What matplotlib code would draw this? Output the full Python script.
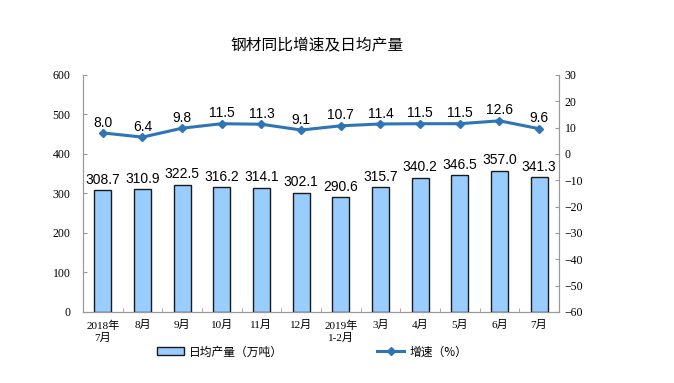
import matplotlib.pyplot as plt
import numpy as np

categories = ['2018年\n7月', '8月', '9月', '10月', '11月', '12月', '2019年\n1-2月',
              '3月', '4月', '5月', '6月', '7月']
output = [308.7, 310.9, 322.5, 316.2, 314.1, 302.1, 290.6, 315.7, 340.2, 346.5, 357.0, 341.3]
growth = [8.0, 6.4, 9.8, 11.5, 11.3, 9.1, 10.7, 11.4, 11.5, 11.5, 12.6, 9.6]

tick_font = ['Liberation Serif', 'Noto Sans CJK SC']
cjk_font = ['Noto Sans CJK SC', 'DejaVu Sans']

fig = plt.figure(figsize=(6.74, 3.83), dpi=100)
ax1 = fig.add_axes([0.1231, 0.1854, 0.7062, 0.6188])
ax2 = ax1.twinx()

x = np.arange(len(categories))
ax1.bar(x, output, width=0.43, color='#99CCFF', edgecolor='#1a1a1a',
        linewidth=1.0, label='日均产量（万吨）', zorder=2)
for xi, v in zip(x, output):
    ax1.text(xi, v + 9, f'{v:.1f}', ha='center', va='bottom', fontsize=10,
             family='Liberation Sans', zorder=5)

ax2.plot(x, growth, color='#2E75B6', lw=2.2, marker='D', ms=4.5,
         label='增速（%）', zorder=4)
for xi, v in zip(x, growth):
    ax2.text(xi, v + 1.3, f'{v:.1f}', ha='center', va='bottom', fontsize=10,
             family='Liberation Sans', zorder=5)

ax1.set_xlim(-0.5, len(categories) - 0.5)
ax1.set_ylim(0, 600)
ax1.set_yticks(range(0, 601, 100))
ax2.set_ylim(-60, 30)
ax2.set_yticks(range(-60, 31, 10))
ax1.set_zorder(ax2.get_zorder() - 1)
ax1.patch.set_visible(False)

ax1.set_xticks(x)
ax1.set_xticklabels(categories, family=tick_font, fontsize=8, linespacing=1.3)
ax1.set_xticks(np.arange(-0.5, len(categories), 1), minor=True)
ax1.tick_params(axis='x', which='major', length=0, pad=6)
ax1.tick_params(axis='x', which='minor', length=3, direction='in', color='#999999')
ax1.tick_params(axis='y', length=3, direction='in', color='#999999', labelsize=8.5, pad=9)
ax2.tick_params(axis='y', length=3, direction='in', color='#999999', labelsize=8.5, pad=4)
for lab in ax1.get_yticklabels() + ax2.get_yticklabels():
    lab.set_family('Liberation Serif')

for ax in (ax1, ax2):
    ax.spines['top'].set_visible(False)
    for s in ['left', 'right', 'bottom']:
        ax.spines[s].set_color('#999999')
        ax.spines[s].set_linewidth(0.8)

fig.text(0.47, 0.882, '钢材同比增速及日均产量', ha='center', va='center',
         fontsize=11.3, family=cjk_font)

h1, l1 = ax1.get_legend_handles_labels()
h2, l2 = ax2.get_legend_handles_labels()
fig.legend(h1 + h2, l1 + l2, loc='center', bbox_to_anchor=(0.463, 0.081), ncol=2,
           frameon=False, prop={'family': cjk_font, 'size': 8.5},
           columnspacing=8, handlelength=2.3, handletextpad=0.4)

fig.savefig('out.png', dpi=100)
